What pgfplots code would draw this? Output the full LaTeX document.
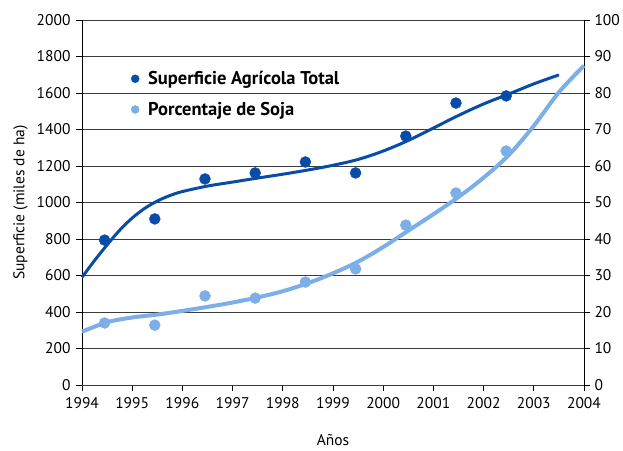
\documentclass[border=0pt]{standalone}
\usepackage{fontspec}
\setmainfont{PT Sans}
\usepackage{pgfplots}
\pgfplotsset{compat=1.18}
\definecolor{dkb}{RGB}{8,76,168}
\definecolor{ltb}{RGB}{124,174,232}
\definecolor{gridc}{RGB}{60,60,60}
\begin{document}
\begin{tikzpicture}[font=\fontsize{15.5bp}{18bp}\selectfont]
\begin{axis}[
  scale only axis, width=502bp, height=365bp,
  xmin=1994, xmax=2004, ymin=0, ymax=2000,
  axis y line*=left, axis x line*=bottom,
  x axis line style={draw=gridc, -},
  y axis line style={draw=black, -},
  xtick={1994,...,2004}, ytick={0,200,...,2000},
  xticklabel style={/pgf/number format/1000 sep={}, yshift=-3bp},
  yticklabel style={/pgf/number format/1000 sep={}, xshift=-2bp},
  /pgf/number format/assume math mode=true,
  tick align=outside, major tick length=6bp,
  tick style={draw=black, line width=0.8pt},
  ymajorgrids, major grid style={draw=gridc, line width=0.9pt},
  xlabel={Años}, ylabel={Superficie (miles de ha)},
  xlabel style={yshift=-19bp},
  ylabel style={yshift=2bp},
  clip=false,
]
\addplot[only marks, mark=*, mark size=5.5bp, mark options={draw=dkb,fill=dkb}] coordinates {
(1994.45,794) (1995.45,910) (1996.45,1129) (1997.45,1162) (1998.45,1222)
(1999.45,1162) (2000.45,1364) (2001.45,1545) (2002.45,1584)};
\addplot[dkb, line width=3bp, smooth, tension=0.55] coordinates {
(1994,590) (1994.25,682) (1994.5,768) (1994.75,848) (1995,915) (1995.25,968) (1995.5,1008)
(1995.75,1038) (1996,1060) (1996.5,1090)
(1997,1112) (1997.5,1134) (1998,1155) (1998.5,1178) (1999,1204) (1999.5,1236)
(2000,1282) (2000.5,1340) (2001,1408) (2001.5,1477) (2002,1540) (2002.5,1594)
(2003,1650) (2003.5,1699)};
\end{axis}
\begin{axis}[
  scale only axis, width=502bp, height=365bp,
  xmin=1994, xmax=2004, ymin=0, ymax=100,
  axis y line*=right, axis x line=none,
  y axis line style={draw=black, -},
  ytick={0,10,...,100},
  yticklabel style={xshift=1bp},
  /pgf/number format/assume math mode=true,
  tick align=outside, major tick length=6bp,
  tick style={draw=black, line width=0.8pt},
  legend image code/.code={\draw[#1] plot coordinates {(0cm,0cm)};},
  legend style={draw=none, fill=none, at={(0.0976,0.797)}, anchor=west,
    font=\fontsize{18.5bp}{21bp}\selectfont\bfseries, row sep=16bp, column sep=9bp,
    inner sep=0pt, nodes={inner sep=0pt}},
  legend cell align=left,
  clip=false,
]
\addlegendimage{only marks, mark=*, mark size=4bp, mark options={draw=dkb,fill=dkb}}
\addlegendentry{Superficie Agrícola Total}
\addlegendimage{only marks, mark=*, mark size=4bp, mark options={draw=ltb,fill=ltb}}
\addlegendentry{Porcentaje de Soja}
\addplot[only marks, mark=*, mark size=5.5bp, mark options={draw=ltb,fill=ltb}, forget plot] coordinates {
(1994.45,17.0) (1995.45,16.4) (1996.45,24.4) (1997.45,23.8) (1998.45,28.2)
(1999.45,31.8) (2000.45,43.8) (2001.45,52.6) (2002.45,64.1)};
\addplot[ltb, line width=4bp, smooth, tension=0.55, forget plot] coordinates {
(1994,14.6) (1994.5,17.2) (1995,18.5) (1995.5,19.3) (1996,20.3) (1996.5,21.4)
(1997,22.6) (1997.5,24) (1998,25.7) (1998.5,27.9) (1999,30.6) (1999.5,33.8)
(2000,37.8) (2000.5,42.3) (2001,46.8) (2001.5,51.5) (2002,56.8) (2002.5,63)
(2003,71) (2003.5,80.2) (2004,87.5)};
\end{axis}
\pgfresetboundingbox
\path (-82bp,-66bp) rectangle (541bp,385bp);
\end{tikzpicture}
\end{document}
